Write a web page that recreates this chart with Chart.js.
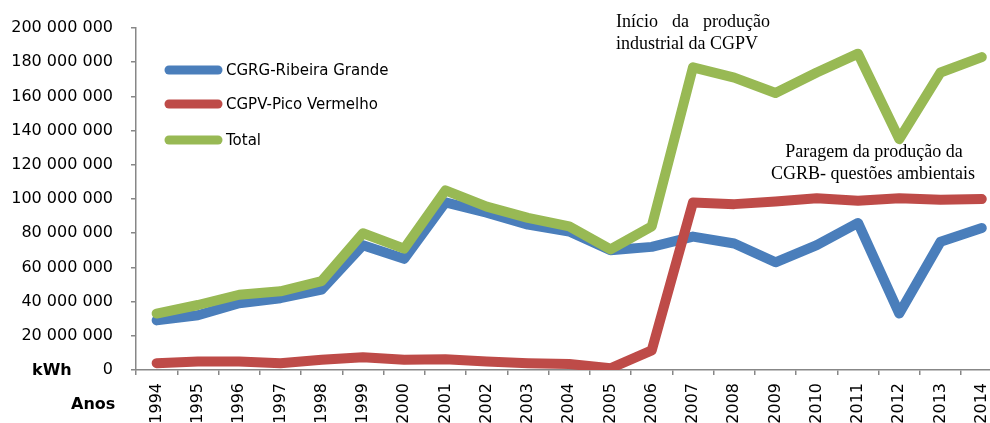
<!DOCTYPE html>
<html lang="pt">
<head>
    <meta charset="UTF-8">
    <title>Produção geotérmica - CGRG e CGPV</title>
    <style>
        html, body {
            margin: 0;
            padding: 0;
            background: #ffffff;
            overflow: hidden;
        }
        #wrap {
            width: 1009px;
            height: 423px;
        }
    </style>
    <script src="https://cdn.jsdelivr.net/npm/chart.js"></script>
</head>
<body>
    <div id="wrap">
        <canvas id="producaoChart" width="1009" height="423"></canvas>
    </div>

    <script>
        // Anos (categorias do eixo x)
        const anos = ['1994', '1995', '1996', '1997', '1998', '1999', '2000', '2001', '2002', '2003', '2004',
                      '2005', '2006', '2007', '2008', '2009', '2010', '2011', '2012', '2013', '2014'];

        // Produção em kWh
        const cgrg = [29e6, 32e6, 39e6, 42e6, 47e6, 73e6, 65e6, 98e6, 92e6, 85e6, 81e6,
                      70e6, 72e6, 78e6, 74e6, 63e6, 73e6, 86e6, 33e6, 75e6, 83e6];
        const cgpv = [4e6, 5e6, 5e6, 4e6, 6e6, 7.5e6, 6e6, 6.3e6, 5e6, 4e6, 3.5e6,
                      1e6, 11.5e6, 98e6, 97e6, 98.5e6, 100.5e6, 99e6, 100.5e6, 99.5e6, 100e6];
        const total = [33e6, 38e6, 44e6, 46e6, 52e6, 80e6, 71e6, 105e6, 95.5e6, 89e6, 84e6,
                       70.5e6, 84e6, 177e6, 171e6, 162e6, 174e6, 185e6, 135e6, 174e6, 183e6];

        const seriesLabels = ['CGRG-Ribeira Grande', 'CGPV-Pico Vermelho', 'Total'];
        const seriesColors = ['#4a7ebb', '#be4b48', '#98b954'];

        const notaInicio = ['Início da produção', 'industrial da CGPV'];
        const notaParagem = ['Paragem da produção da', 'CGRB- questões ambientais'];

        const axisColor = '#878787';

        function formatKwh(v) {
            return String(v).replace(/\B(?=(\d{3})+(?!\d))/g, ' ');
        }

        // Legend, axis titles and notes drawn on top of the chart
        const extrasPlugin = {
            id: 'extras',
            afterDraw(chart) {
                const ctx = chart.ctx;
                ctx.save();

                // legend inside the plot area
                const legendY = [70, 104, 140];
                chart.data.datasets.forEach((ds, i) => {
                    ctx.strokeStyle = ds.borderColor;
                    ctx.lineWidth = 9;
                    ctx.lineCap = 'round';
                    ctx.beginPath();
                    ctx.moveTo(169, legendY[i]);
                    ctx.lineTo(218, legendY[i]);
                    ctx.stroke();
                    ctx.fillStyle = '#000';
                    ctx.font = '15px "DejaVu Sans"';
                    ctx.textAlign = 'left';
                    ctx.textBaseline = 'middle';
                    ctx.fillText(ds.label, 226, legendY[i] + 1);
                });

                // axis titles
                ctx.fillStyle = '#000';
                ctx.font = 'bold 16px "DejaVu Sans"';
                ctx.textAlign = 'left';
                ctx.textBaseline = 'middle';
                ctx.fillText('kWh', 32, 371);
                ctx.fillText('Anos', 71, 405);

                // notes
                ctx.font = '18px "Liberation Serif"';
                ctx.textBaseline = 'alphabetic';
                // first note: justified block
                const left = 616, width = 154;
                const words = notaInicio[0].split(' ');
                const wordsW = words.reduce((s, w) => s + ctx.measureText(w).width, 0);
                const gap = (width - wordsW) / (words.length - 1);
                let x = left;
                words.forEach(w => {
                    ctx.fillText(w, x, 27);
                    x += ctx.measureText(w).width + gap;
                });
                ctx.fillText(notaInicio[1], left, 49);

                ctx.textAlign = 'center';
                ctx.fillText(notaParagem[0], 874, 157);
                ctx.fillText(notaParagem[1], 873, 179);

                ctx.restore();
            }
        };

        const ctxProducao = document.getElementById('producaoChart').getContext('2d');
        const producaoChart = new Chart(ctxProducao, {
            type: 'line',
            data: {
                labels: anos,
                datasets: [
                    { label: seriesLabels[0], data: cgrg, borderColor: seriesColors[0], order: 3 },
                    { label: seriesLabels[1], data: cgpv, borderColor: seriesColors[1], order: 2 },
                    { label: seriesLabels[2], data: total, borderColor: seriesColors[2], order: 1 }
                ]
            },
            options: {
                responsive: false,
                animation: false,
                devicePixelRatio: 1,
                layout: {
                    padding: { top: 28, right: 0, left: 0, bottom: 0 }
                },
                elements: {
                    line: {
                        borderWidth: 10,
                        tension: 0,
                        borderCapStyle: 'round',
                        borderJoinStyle: 'round',
                        fill: false
                    },
                    point: { radius: 0, hoverRadius: 0 }
                },
                plugins: {
                    legend: { display: false },
                    tooltip: { enabled: false }
                },
                scales: {
                    x: {
                        offset: true,
                        grid: {
                            offset: true,
                            drawOnChartArea: false,
                            drawTicks: true,
                            tickLength: 5,
                            color: axisColor,
                            lineWidth: 1.5
                        },
                        border: { display: true, color: axisColor, width: 1.5 },
                        ticks: {
                            minRotation: 90,
                            maxRotation: 90,
                            autoSkip: false,
                            padding: 8,
                            color: '#000',
                            font: { family: 'DejaVu Sans', size: 16 }
                        },
                        afterFit(scale) { scale.height = 53; }
                    },
                    y: {
                        min: 0,
                        max: 200000000,
                        grid: {
                            drawOnChartArea: false,
                            drawTicks: true,
                            tickLength: 5,
                            color: axisColor,
                            lineWidth: 1.5
                        },
                        border: { display: true, color: axisColor, width: 1.5 },
                        ticks: {
                            stepSize: 20000000,
                            padding: 18,
                            color: '#000',
                            font: { family: 'DejaVu Sans', size: 16 },
                            callback: value => formatKwh(value)
                        },
                        afterFit(scale) { scale.width = 136; }
                    }
                }
            },
            plugins: [extrasPlugin]
        });
    </script>
</body>
</html>
